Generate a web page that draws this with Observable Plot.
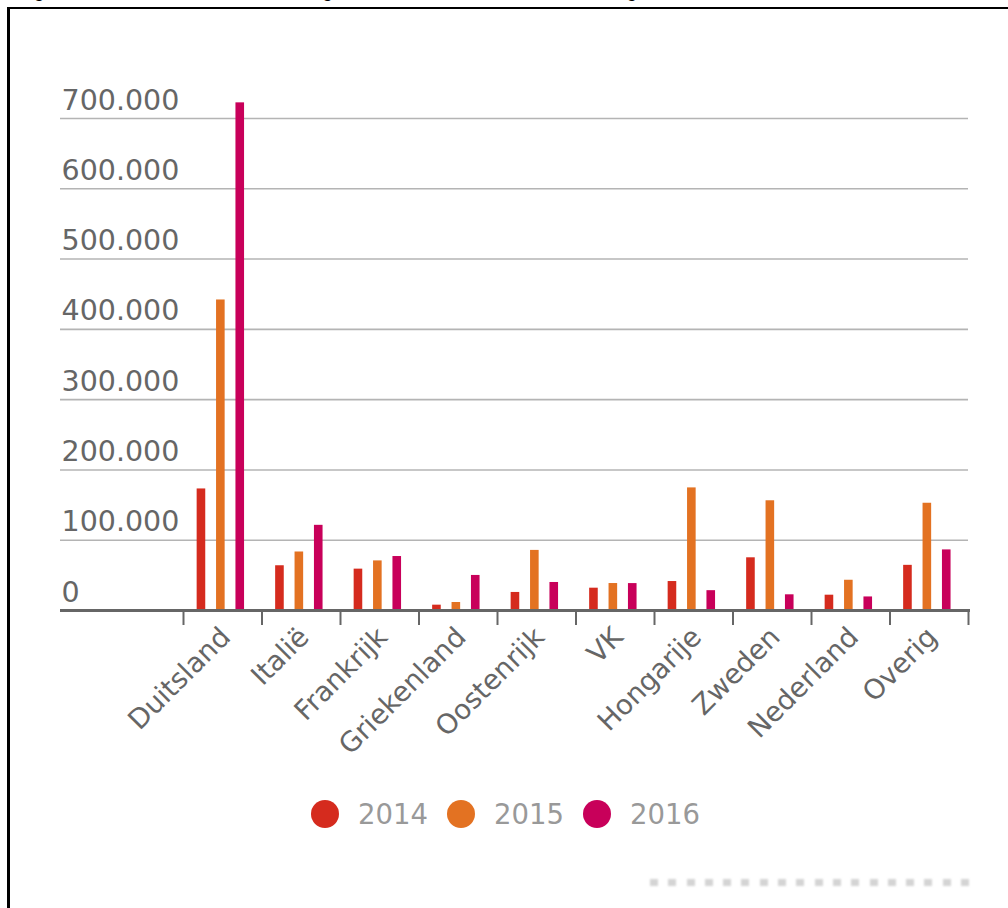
<!DOCTYPE html>
<html>
<head>
<meta charset="utf-8">
<script src="https://cdn.jsdelivr.net/npm/d3@7"></script>
<script src="https://cdn.jsdelivr.net/npm/@observablehq/plot@0.6"></script>
<style>
  html, body { margin: 0; padding: 0; background: #fff; overflow: hidden; width: 1008px; height: 908px; }
  #title { position: absolute; left: 18px; top: -18px; font: 19px/18px "Liberation Sans", Arial, sans-serif; color: #000; white-space: nowrap; }
  #frame { position: absolute; left: 7px; top: 7px; width: 1100px; height: 1000px; border-left: 3px solid #000; border-top: 2px solid #000; }
  #chart { position: absolute; left: 0; top: 0; }
  #legend { position: absolute; top: 800px; left: 311px; display: flex; align-items: center; font: 27.5px/28px "DejaVu Sans", sans-serif; color: #999; }
  .item { display: flex; align-items: center; margin-right: 19px; }
  .dot { width: 28px; height: 28px; border-radius: 50%; margin-right: 19px; }
  #credit { position: absolute; left: 650px; top: 879px; width: 322px; height: 7px; filter: blur(0.8px);
            background: repeating-linear-gradient(to right, #d4d4d4 0 8px, transparent 8px 18.3px); }
</style>
</head>
<body>
<div id="title">Figuur 1.1 Aantal eerste asielaanvragen in de EU naar land van aanvraag, 2014–2016</div>
<div id="frame"></div>
<div id="chart"></div>
<div id="legend"></div>
<div id="credit"></div>
<script>
const countries = ["Duitsland", "Italië", "Frankrijk", "Griekenland", "Oostenrijk", "VK", "Hongarije", "Zweden", "Nederland", "Overig"];
const years = ["2014", "2015", "2016"];
const v2014 = [172945, 63655, 58845, 7585, 25675, 31745, 41215, 74980, 21780, 64255];
const v2015 = [441800, 83245, 70570, 11370, 85505, 38370, 174435, 156110, 43035, 152590];
const v2016 = [722265, 121185, 76790, 49875, 39860, 38290, 28215, 22330, 19285, 86205];
const yTicks = [0, 100000, 200000, 300000, 400000, 500000, 600000, 700000];
const colors = ["#d52b1e", "#e37222", "#c8005a"];

const series = [v2014, v2015, v2016];
const W = 1008, H = 760;
const xLeft = 183, xRight = 968;
const bw = (xRight - xLeft) / countries.length;
const barW = 8.6, pitch = 19.4, shift = -1.9;
const fmt = d => d3.format(",")(d).replace(/,/g, ".");

const barMarks = series.map((vals, j) =>
  Plot.barY(countries.map((c, i) => ({country: c, year: years[j], value: vals[i]})), {
    x: "country", y: "value", fill: colors[j],
    insetLeft: (bw - barW) / 2, insetRight: (bw - barW) / 2,
    dx: shift + (j - 1) * pitch
  })
);

const chart = Plot.plot({
  width: W, height: H,
  marginLeft: 60, marginRight: W - xRight, marginTop: 118, marginBottom: H - 610,
  style: {fontFamily: "DejaVu Sans, sans-serif", background: "transparent", overflow: "visible"},
  x: {domain: countries, range: [xLeft, xRight], padding: 0, round: false, axis: null, label: null},
  y: {domain: [0, 700000], axis: null, label: null},
  marks: [
    Plot.gridY(yTicks, {stroke: "#b4b4b4", strokeOpacity: 1, strokeWidth: 1.6}),
    Plot.axisY(yTicks, {anchor: "left", tickSize: 0, tickPadding: 0, textAnchor: "start", lineAnchor: "bottom",
      dx: 1, dy: -9, fontSize: 28.5, color: "#666", tickFormat: fmt, label: null}),
    ...barMarks,
    Plot.ruleY([0], {stroke: "#666", strokeWidth: 3, insetRight: -2}),
    Plot.ruleX(countries, {x: d => d, y1: 0, y2: 0, insetBottom: -15, dx: -bw / 2, stroke: "#666", strokeWidth: 2}),
    Plot.ruleX([countries[countries.length - 1]], {x: d => d, y1: 0, y2: 0, insetBottom: -15, dx: bw / 2, stroke: "#666", strokeWidth: 2}),
    Plot.axisX(countries, {anchor: "bottom", tickSize: 0, tickPadding: 22, tickRotate: -45, dx: 3,
      fontSize: 27.5, color: "#666", label: null})
  ]
});
document.getElementById("chart").appendChild(chart);

const legend = document.getElementById("legend");
years.forEach((y, j) => {
  const item = document.createElement("div");
  item.className = "item";
  const dot = document.createElement("span");
  dot.className = "dot";
  dot.style.background = colors[j];
  const label = document.createElement("span");
  label.textContent = y;
  item.appendChild(dot);
  item.appendChild(label);
  legend.appendChild(item);
});
</script>
</body>
</html>
